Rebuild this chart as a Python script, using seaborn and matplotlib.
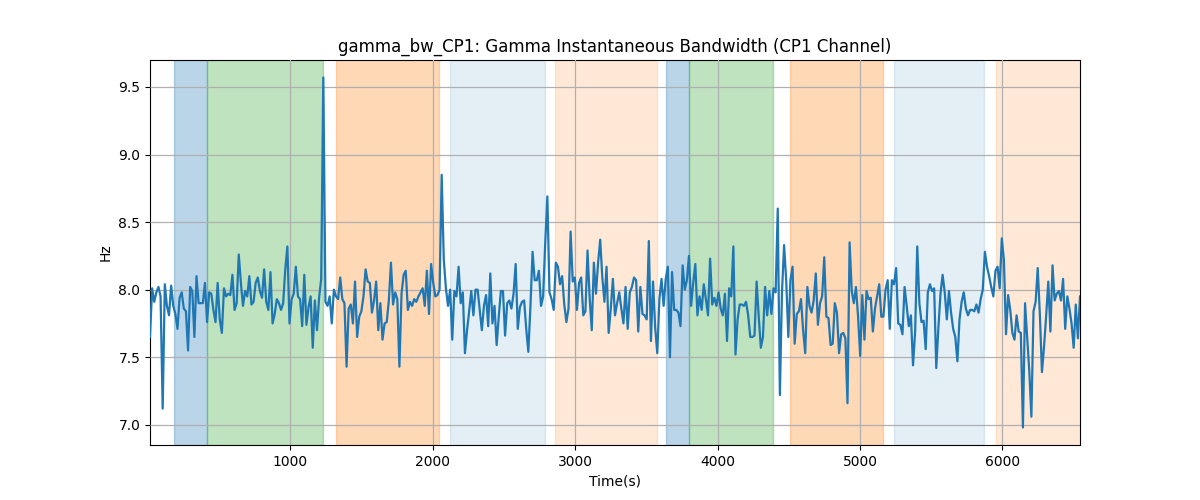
import numpy as np
import pandas as pd
import matplotlib
matplotlib.use("Agg")
import matplotlib.pyplot as plt
import seaborn as sns

# ---- data ----
t_start = 17.0
t_end = 6544.0

bw_part1 = [7.65, 8.01, 7.91, 7.98, 8.02, 7.95, 7.12, 8.04, 7.88, 7.81, 8.03, 7.88, 7.82, 7.71,
            7.94, 7.98, 7.86, 7.84, 7.55, 8.02, 7.99, 7.65, 8.10, 7.90, 7.90, 7.90, 8.05, 7.76,
            7.98, 7.97, 7.85, 7.76, 8.05, 7.78, 7.68, 8.01, 7.95, 7.97, 7.96, 8.11, 7.85, 7.90,
            8.26, 8.05, 7.88, 7.99, 7.95, 8.10, 7.89, 7.91, 8.05, 8.09, 7.99, 7.94, 8.15, 7.91,
            7.85, 8.13, 7.75, 7.82, 7.93, 7.90, 7.85]
bw_part2 = [7.90, 8.15, 8.32, 7.75, 7.93, 7.97, 8.17, 7.95, 7.93, 7.73, 8.11, 7.74, 7.87, 7.95,
            7.57, 7.92, 7.70, 7.94, 8.08, 9.57, 7.91, 7.88, 7.95, 7.75, 8.00, 7.95, 7.93, 8.09,
            7.93, 7.90, 7.43, 7.86, 7.89, 7.75, 8.06, 7.65, 7.80, 7.84, 7.95, 8.15, 8.06, 8.05,
            7.83, 7.92, 8.06, 7.70, 7.90, 7.63, 7.75, 7.76, 7.92, 8.20, 7.89, 7.98, 7.93, 7.43,
            7.97, 8.11, 8.14, 7.85, 7.91, 7.88, 7.93]
bw_part3 = [7.91, 7.95, 7.98, 8.01, 7.88, 8.14, 7.82, 8.19, 8.05, 7.95, 7.96, 8.00, 8.85, 8.22,
            8.01, 7.88, 8.00, 7.63, 7.99, 7.95, 8.17, 7.90, 7.98, 7.53, 7.70, 7.84, 7.99, 7.81,
            8.00, 8.00, 7.85, 7.70, 7.88, 7.96, 7.73, 8.12, 7.75, 7.88, 7.59, 7.80, 7.99, 7.99,
            7.66, 7.90, 7.92, 7.86, 7.97, 8.19, 7.71, 7.87, 7.91, 7.92, 7.71, 7.54, 7.88, 8.28,
            8.07, 8.07, 8.14, 7.88, 7.95, 8.35, 8.69, 7.98]
bw_part4 = [7.93, 7.85, 8.20, 8.17, 8.04, 8.10, 7.89, 7.76, 7.86, 8.43, 8.06, 8.09, 7.85, 8.05,
            8.09, 7.81, 7.84, 8.29, 7.94, 7.70, 8.20, 7.97, 8.20, 8.37, 8.09, 7.91, 8.17, 7.68,
            7.86, 8.08, 7.81, 7.90, 7.98, 7.86, 7.75, 8.02, 7.71, 7.98, 8.02, 8.09, 8.07, 7.69,
            8.02, 7.82, 7.81, 7.78, 8.36, 7.62, 8.06, 7.72, 7.53, 7.93, 8.08, 7.88, 8.08, 8.17,
            7.50, 8.13, 7.85, 7.85, 7.83, 7.73, 8.18]
bw_part5 = [8.00, 8.07, 8.25, 7.88, 8.05, 8.19, 7.81, 7.95, 7.85, 8.04, 7.93, 7.81, 8.23, 7.89,
            7.94, 7.88, 7.98, 7.86, 7.81, 7.97, 7.62, 8.01, 7.95, 8.32, 7.52, 7.78, 7.89, 7.89,
            7.88, 7.91, 7.81, 7.65, 7.65, 7.66, 8.06, 7.80, 7.57, 7.65, 8.02, 7.81, 7.99, 7.82,
            8.01, 7.98, 8.60, 7.22, 7.98, 8.33, 8.07, 7.65, 8.07, 8.17, 7.60, 7.82, 7.84, 7.93,
            7.70, 7.53, 8.02, 7.88, 7.83, 7.92, 8.12]
bw_part6 = [7.74, 7.90, 7.95, 8.24, 7.80, 7.79, 7.59, 7.60, 7.90, 7.83, 7.53, 7.67, 7.68, 7.64,
            7.16, 8.35, 7.99, 7.90, 8.02, 7.80, 7.51, 7.96, 7.63, 7.99, 7.93, 7.94, 7.69, 7.86,
            7.95, 8.04, 7.80, 7.80, 8.00, 8.07, 7.71, 8.07, 8.04, 8.16, 7.75, 7.74, 7.67, 8.02,
            7.88, 7.73, 7.81, 7.44, 7.69, 8.32, 7.90, 7.76, 7.77, 7.56, 7.98, 8.04, 7.99, 8.01,
            7.42, 7.72, 7.97, 8.11, 7.98, 7.78]
bw_part7 = [7.99, 7.83, 7.71, 7.65, 7.47, 7.78, 7.91, 7.98, 7.86, 7.81, 7.85, 7.85, 7.84, 7.89,
            7.83, 7.93, 8.00, 8.28, 8.17, 8.10, 8.02, 7.95, 8.14, 8.17, 8.01, 8.38, 8.22, 7.67,
            7.96, 7.85, 7.68, 7.63, 7.81, 7.69, 7.68, 6.98, 7.90, 7.65, 7.40, 7.06, 7.84, 7.91,
            8.16, 7.82, 7.39, 7.58, 7.81, 8.06, 7.69, 8.18, 7.92, 7.97, 7.99, 7.92, 8.08, 7.71,
            7.95, 7.86, 7.75, 7.57, 7.89, 7.64, 7.95]

# shaded segments: (start, end, colour, alpha)
span_starts = [186, 418, 1323, 2123, 2860, 3639, 3800, 4509, 5239, 5954]
span_ends = [418, 1232, 2046, 2789, 3575, 3800, 4389, 5161, 5870, 6600]
span_colors = ["tab:blue", "tab:green", "tab:orange", "tab:blue", "tab:orange",
               "tab:blue", "tab:green", "tab:orange", "tab:blue", "tab:orange"]
span_alphas = [0.3, 0.3, 0.3, 0.12, 0.17, 0.3, 0.3, 0.3, 0.12, 0.17]

values = np.array(bw_part1 + bw_part2 + bw_part3 + bw_part4 + bw_part5 + bw_part6 + bw_part7)
time = np.linspace(t_start, t_end, len(values))
df = pd.DataFrame({"Time(s)": time, "Hz": values})

fig, ax = plt.subplots(figsize=(12, 5), dpi=100)

for s, e, c, a in zip(span_starts, span_ends, span_colors, span_alphas):
    ax.axvspan(s, e, color=c, alpha=a, zorder=0)

sns.lineplot(data=df, x="Time(s)", y="Hz", ax=ax, color="tab:blue", linewidth=1.6, zorder=3)

ax.set_xlim(t_start, t_end)
ax.grid(True, color="#b0b0b0", linewidth=0.9, zorder=1)
ax.set_axisbelow(False)
ax.set_title("gamma_bw_CP1: Gamma Instantaneous Bandwidth (CP1 Channel)")
ax.set_xlabel("Time(s)")
ax.set_ylabel("Hz")

fig.savefig("out.png", dpi=100)
